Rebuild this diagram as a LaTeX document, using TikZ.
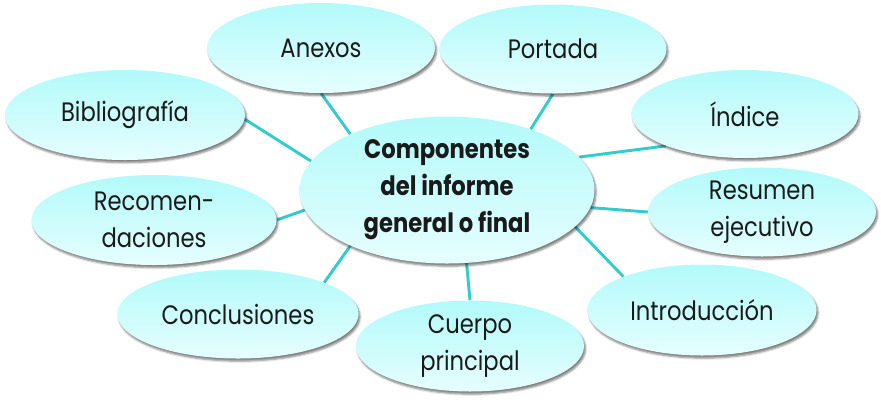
\documentclass[tikz,border=0pt]{standalone}
\usepackage{fontspec}
\setmainfont{Poppins}[FakeStretch=0.85]
\usetikzlibrary{shapes.geometric,shadows.blur,backgrounds}
\definecolor{topc}{HTML}{B2FAFA}
\definecolor{botc}{HTML}{E6FEFE}
\definecolor{linec}{HTML}{33CCCC}
\definecolor{txt}{HTML}{1A1A1A}
\tikzset{
  bubble/.style={ellipse, inner sep=0pt, top color=topc, bottom color=botc, draw=none,
    blur shadow={shadow xshift=1.2pt, shadow yshift=-2pt, shadow blur radius=1.5pt, shadow opacity=50},
    align=center, font=\fontsize{20}{27.75}\selectfont, text=txt},
  link/.style={draw=linec, line width=2.2pt}
}
\begin{document}
\begin{tikzpicture}[x=0.75pt,y=-0.75pt]
\useasboundingbox (0,0) rectangle (881,408);
\node[bubble, minimum width=171pt, minimum height=67.5pt] (anexos) at (321,48) {Anexos};
\node[bubble, minimum width=170.25pt, minimum height=66.75pt] (portada) at (553,49) {Portada};
\node[bubble, minimum width=170.25pt, minimum height=66pt] (indice) at (745,114) {Índice};
\node[bubble, minimum width=171pt, minimum height=66.75pt] (resumen) at (762,212) {Resumen\\ejecutivo};
\node[bubble, minimum width=171.75pt, minimum height=68.25pt] (intro) at (702,310) {Introducción};
\node[bubble, minimum width=171pt, minimum height=68.25pt] (cuerpo) at (470,346) {Cuerpo\\principal};
\node[bubble, minimum width=180.75pt, minimum height=66.75pt] (concl) at (238,314) {Conclusiones};
\node[bubble, minimum width=183.75pt, minimum height=67.5pt] (recom) at (154,220) {Recomen-\\daciones};
\node[bubble, minimum width=180pt, minimum height=67.5pt] (biblio) at (125,115) {Bibliografía};
\node[bubble, minimum width=221.25pt, minimum height=110.25pt, font=\fontsize{20}{27.75}\selectfont\bfseries] (main) at (447,190) {Componentes\\del informe\\general o final};
\begin{scope}[on background layer]
\draw[link] (anexos.-90) -- (main.150);
\draw[link] (portada.-90) -- (main.36);
\draw[link] (indice.202) -- (main.14);
\draw[link] (resumen.180) -- (main.-7.6);
\draw[link] (intro.157.6) -- (main.-16.7);
\draw[link] (cuerpo.90) -- (main.-75.4);
\draw[link] (concl.20.4) -- (main.210.5);
\draw[link] (recom.0) -- (main.188.8);
\draw[link] (biblio.-2) -- (main.168.4);
\end{scope}
\end{tikzpicture}
\end{document}
